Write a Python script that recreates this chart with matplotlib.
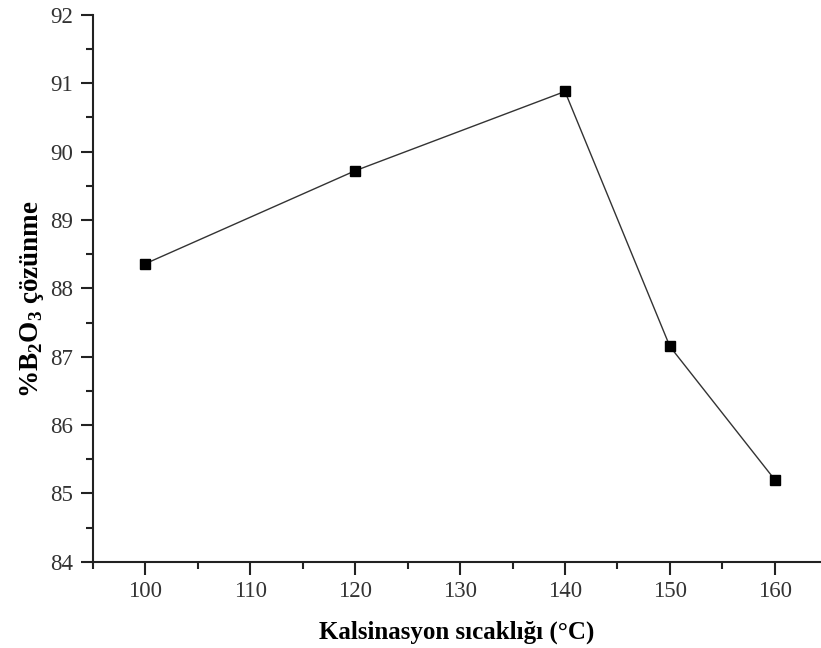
import matplotlib
matplotlib.use('Agg')
import matplotlib.pyplot as plt
from matplotlib.ticker import MultipleLocator

# calcination temperature vs. B2O3 dissolution
temps = [100, 120, 140, 150, 160]
b2o3 = [88.36, 89.72, 90.88, 87.15, 85.2]

plt.rcParams['font.family'] = 'Liberation Serif'
plt.rcParams['mathtext.fontset'] = 'custom'
plt.rcParams['mathtext.rm'] = 'Liberation Serif'
plt.rcParams['mathtext.bf'] = 'Liberation Serif:bold'

fig = plt.figure(figsize=(8.21, 6.48), dpi=100)
ax = fig.add_axes([0.113, 0.133, 0.887, 0.844])

ax.plot(temps, b2o3, color='#333333', lw=1.0, marker='s', ms=7.5,
        mfc='black', mec='black')

ax.set_xlim(95, 164.4)
ax.set_ylim(84, 92)
ax.xaxis.set_major_locator(MultipleLocator(10))
ax.xaxis.set_minor_locator(MultipleLocator(5))
ax.yaxis.set_major_locator(MultipleLocator(1))
ax.yaxis.set_minor_locator(MultipleLocator(0.5))

for s in ['top', 'right']:
    ax.spines[s].set_visible(False)
for s in ['left', 'bottom']:
    ax.spines[s].set_linewidth(1.5)
    ax.spines[s].set_color('#222222')

ax.tick_params(which='major', direction='out', length=9, width=1.5, labelsize=16.5,
               pad=5, color='#222222', labelcolor='#333333')
ax.tick_params(which='minor', direction='out', length=5, width=1.5, color='#222222')

ax.set_xlabel('Kalsinasyon sıcaklığı (°C)', fontsize=18, fontweight='bold', labelpad=13)
ax.set_ylabel(r'%B$_\mathbf{2}$O$_\mathbf{3}$ çözünme', fontsize=19.5, fontweight='bold')
ax.yaxis.set_label_coords(-0.064, 0.48)

fig.savefig('out.png', dpi=100)
